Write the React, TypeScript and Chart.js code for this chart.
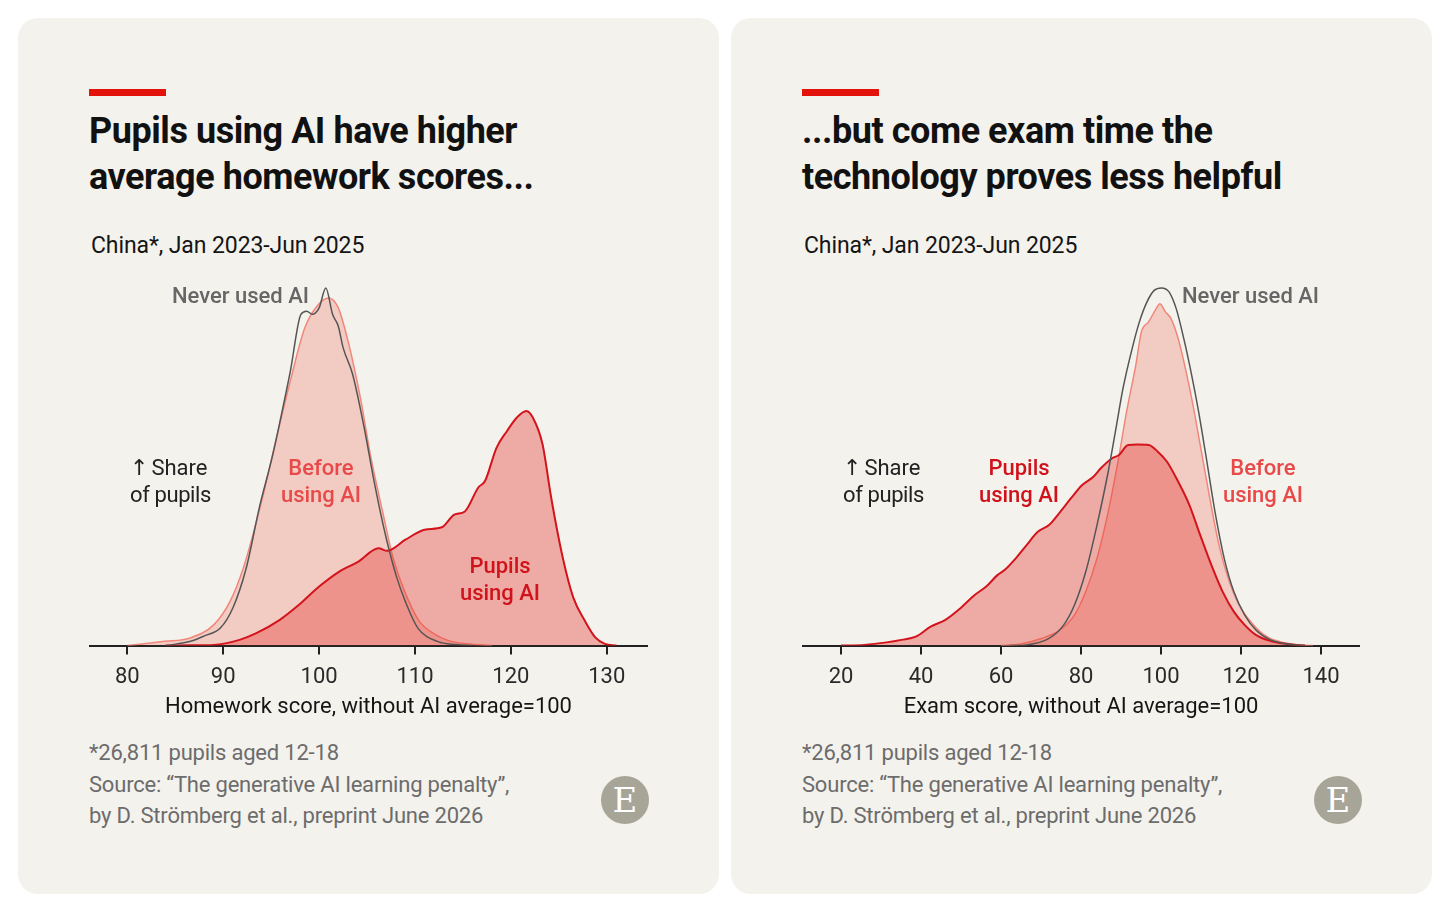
import React, { useEffect, useRef } from "react";
import { Chart, registerables } from "chart.js";

Chart.register(...registerables);

// ---------- Data (score, share of pupils; Never-used-AI peak = 100) ----------
const HW_TICKS = [80, 90, 100, 110, 120, 130];
const EXAM_TICKS = [20, 40, 60, 80, 100, 120, 140];

const hwNever: [number, number][] = [
  [84, 0], [86.6, 1.2], [88.1, 2.8], [89.7, 4.9], [91.0, 10.5], [92.4, 21.7], [93.8, 39],
  [95.1, 52.6], [96.0, 63.7], [97.0, 76.7], [98.1, 92.6], [98.7, 93.5], [99.3, 92.6],
  [100.0, 94.4], [100.7, 100], [101.4, 92.6], [102.0, 89.3], [102.5, 83.3], [103.5, 75.8],
  [104.7, 60.9], [105.8, 45], [107.0, 30], [108.1, 19], [109.0, 12.3], [110.3, 4.9],
  [112.4, 1.1], [114.3, 0.3], [116, 0],
];
const hwBefore: [number, number][] = [
  [80, 0], [83.9, 1.2], [86.5, 2.1], [89.0, 5.8], [90.7, 12.3], [92.1, 21.7], [93.1, 31],
  [94.0, 40.3], [95.4, 56.3], [97.0, 74], [98.5, 88.8], [99.9, 95.3], [101.0, 97.2],
  [102.0, 94.4], [103.1, 84.2], [104.3, 69.3], [105.4, 52.6], [106.6, 37.7], [107.7, 24.7],
  [108.9, 15.3], [110.4, 7], [112, 3.3], [113.5, 1.4], [115.4, 0.5], [118, 0],
];
const hwPupilsAI: [number, number][] = [
  [84, 0], [86.6, 0.1], [89.0, 0.2], [91.7, 1.6], [93.4, 3.4], [95.9, 7.2], [97.9, 11.4],
  [100.0, 16.5], [102.1, 20.7], [104.1, 23.5], [106.2, 27.2], [107.1, 26.5], [109.0, 29.6],
  [111.0, 32.4], [112.8, 33.1], [114.1, 36.6], [115.2, 37.5], [116.6, 44.2], [117.3, 46],
  [118.5, 55.3], [119.6, 60], [120.6, 63.7], [121.6, 65.6], [122.3, 63.7], [123.3, 56.3],
  [124.2, 41.4], [125.4, 24.7], [126.5, 13.5], [127.7, 7], [128.8, 2.3], [129.8, 0.5],
  [131, 0],
];

const examNever: [number, number][] = [
  [62, 0], [66.4, 0.2], [72, 2], [75.7, 5.8], [78.4, 11.4], [81.2, 20.7], [84, 33.7],
  [86.8, 48.6], [88.6, 59.8], [90.5, 71.9], [92.8, 83.1], [94.6, 90.5], [96.5, 96.1],
  [98.3, 99.3], [100.1, 100], [102, 98.9], [103.8, 94.2], [105.7, 85.8], [107.5, 76.5],
  [109.4, 65.4], [111.2, 53.3], [113.5, 37.4], [115.8, 24.4], [118.2, 15.1], [120.9, 8.6],
  [123.7, 4.4], [127.4, 1.6], [132, 0.4], [136, 0],
];
const examBefore: [number, number][] = [
  [60, 0], [64.6, 0.4], [70.1, 2], [74.8, 4.4], [78.4, 8.6], [81.2, 15.1], [84, 24.4],
  [86.8, 37.4], [89.1, 50.5], [91.4, 65.4], [93.7, 78.4], [95.1, 87.7], [96.9, 90.5],
  [98.8, 94.2], [99.7, 95.6], [101.1, 93.3], [102.5, 91.4], [104.3, 85.8], [106.1, 77.5],
  [108, 67.2], [109.8, 56.1], [112.2, 41.2], [114.5, 28.1], [116.8, 18.8], [119.5, 11.4],
  [122.8, 6.2], [126.5, 2.5], [131.1, 0.7], [134.8, 0.2], [138, 0],
];
const examPupilsAI: [number, number][] = [
  [20, 0], [25.8, 0.2], [31.4, 0.9], [35.1, 1.6], [38.7, 2.5], [42.4, 5.3], [46.1, 7.2],
  [49.8, 10.4], [53.5, 14.2], [56.3, 16.5], [59.1, 19.7], [60.9, 21.1], [63.7, 24.4],
  [66.4, 28.1], [69.2, 31.8], [72, 33.7], [74.8, 37.4], [77.5, 41.2], [80.3, 44.9],
  [83.1, 47.2], [84.9, 49.5], [87.7, 52.3], [89.5, 53.3], [91.8, 56.1], [94.1, 56.2],
  [96.9, 56.1], [99.2, 54.2], [101.5, 51.4], [104.3, 45.8], [107.1, 39.3], [109.8, 30.9],
  [112.6, 22.5], [115.4, 15.1], [118.2, 9.5], [120.9, 5.8], [123.7, 3], [127.4, 1.3],
  [132, 0.4], [136, 0],
];

// ---------- Styles ----------
const FONT = "Roboto, 'Liberation Sans', sans-serif";
const CARD_BG = "#f4f2ed";
const RED_LINE = "#d3141c";
const BEFORE_LINE = "#f0877a";
const GRAY_LINE = "#555555";

type Pt = [number, number];

function DensityChart(props: {
  never: Pt[];
  before: Pt[];
  pupils: Pt[];
  ticks: number[];
  min: number;
  max: number;
  axisTitle: string;
  left: number;
  top: number;
  width: number;
  height: number;
}) {
  const ref = useRef<HTMLCanvasElement | null>(null);
  useEffect(() => {
    if (!ref.current) return;
    const toXY = (a: Pt[]) => a.map(([x, y]) => ({ x, y }));
    const chart = new Chart(ref.current, {
      type: "line",
      data: {
        datasets: [
          {
            label: "Pupils using AI",
            data: toXY(props.pupils),
            borderColor: RED_LINE,
            borderWidth: 2,
            backgroundColor: "rgba(230, 60, 52, 0.39)",
            fill: "origin",
            pointRadius: 0,
            tension: 0.4,
            cubicInterpolationMode: "monotone",
            order: 2,
          },
          {
            label: "Before using AI",
            data: toXY(props.before),
            borderColor: BEFORE_LINE,
            borderWidth: 1.5,
            backgroundColor: "rgba(238, 120, 105, 0.32)",
            fill: "origin",
            pointRadius: 0,
            tension: 0.4,
            cubicInterpolationMode: "monotone",
            order: 3,
          },
          {
            label: "Never used AI",
            data: toXY(props.never),
            borderColor: GRAY_LINE,
            borderWidth: 1.5,
            backgroundColor: "transparent",
            fill: false,
            pointRadius: 0,
            tension: 0.4,
            cubicInterpolationMode: "monotone",
            order: 1,
          },
        ],
      },
      options: {
        animation: false,
        responsive: false,
        maintainAspectRatio: false,
        layout: { padding: 0 },
        plugins: { legend: { display: false }, tooltip: { enabled: false }, title: { display: false } },
        scales: {
          x: {
            type: "linear",
            min: props.min,
            max: props.max,
            afterBuildTicks: (axis: any) => {
              axis.ticks = props.ticks.map((v) => ({ value: v }));
            },
            grid: {
              drawOnChartArea: false,
              drawTicks: true,
              tickLength: 9,
              color: "#222",
              lineWidth: 2,
            },
            border: { display: true, color: "#222", width: 2 },
            ticks: {
              autoSkip: false,
              maxRotation: 0,
              padding: 12,
              color: "#2a2a2a",
              font: { family: FONT, size: 22, lineHeight: 1.0 },
            },
            title: {
              display: true,
              text: props.axisTitle,
              color: "#151515",
              font: { family: FONT, size: 22, lineHeight: 1.2 },
              padding: { top: -6, bottom: 0 },
            },
          },
          y: { display: false, min: 0, max: 105 },
        },
      },
    });
    return () => chart.destroy();
  }, []);
  return (
    <canvas
      ref={ref}
      width={props.width}
      height={props.height}
      style={{ position: "absolute", left: props.left, top: props.top, width: props.width, height: props.height }}
    />
  );
}

function Txt(props: {
  x: number;
  y: number;
  children: React.ReactNode;
  size?: number;
  color?: string;
  weight?: number;
  align?: "left" | "center" | "right";
  lh?: number;
  ls?: number;
}) {
  const lh = props.lh ?? 27;
  const align = props.align ?? "left";
  const w = 600;
  const left = align === "left" ? props.x : align === "center" ? props.x - w / 2 : props.x - w;
  return (
    <div
      style={{
        position: "absolute",
        left,
        top: props.y - lh / 2,
        width: w,
        textAlign: align,
        fontFamily: FONT,
        fontSize: props.size ?? 22,
        lineHeight: `${lh}px`,
        color: props.color ?? "#151515",
        fontWeight: props.weight ?? 400,
        letterSpacing: props.ls ?? 0,
        whiteSpace: "pre",
      }}
    >
      {props.children}
    </div>
  );
}

function Logo(props: { cx: number; cy: number }) {
  return (
    <div
      style={{
        position: "absolute",
        left: props.cx - 24,
        top: props.cy - 24,
        width: 48,
        height: 48,
        borderRadius: "50%",
        background: "#a7a597",
        color: "#fff",
        fontFamily: "'DejaVu Serif', 'Liberation Serif', serif",
        fontSize: 34,
        lineHeight: "48px",
        textAlign: "center",
      }}
    >
      E
    </div>
  );
}

function Card(props: { x: number }) {
  return (
    <div
      style={{
        position: "absolute",
        left: props.x,
        top: 18,
        width: 701,
        height: 876,
        borderRadius: 20,
        background: CARD_BG,
      }}
    />
  );
}

const Arrow = () => (
  <span style={{ fontFamily: "'DejaVu Sans', sans-serif", fontSize: 22, marginRight: 3 }}>↑</span>
);

export default function App() {
  const dx = 713; // offset of right panel
  const titleProps = { size: 36, weight: 700, lh: 46, ls: -0.45, color: "#111" };
  const footColor = "#6c6c6c";
  return (
    <div style={{ position: "absolute", left: 0, top: 0, width: 1451, height: 916, background: "#ffffff", overflow: "hidden" }}>
      <Card x={18} />
      <Card x={731} />

      {/* Left panel */}
      <div style={{ position: "absolute", left: 89, top: 89, width: 77, height: 7, background: "#e3120b" }} />
      <Txt x={89} y={131} {...titleProps}>Pupils using AI have higher</Txt>
      <Txt x={89} y={177} {...titleProps}>average homework scores...</Txt>
      <Txt x={91} y={245} size={23} ls={-0.1}>China*, Jan 2023-Jun 2025</Txt>
      <DensityChart
        never={hwNever}
        before={hwBefore}
        pupils={hwPupilsAI}
        ticks={HW_TICKS}
        min={76}
        max={134.3}
        axisTitle="Homework score, without AI average=100"
        left={89}
        top={270}
        width={559}
        height={451}
      />
      <Txt x={309} y={295} align="right" color="#666" weight={500}>Never used AI</Txt>
      <Txt x={130} y={467} color="#222"><Arrow />Share</Txt>
      <Txt x={130} y={494} color="#222" ls={-0.4}>of pupils</Txt>
      <Txt x={321} y={467} align="center" color="#e84a4a" weight={500}>Before</Txt>
      <Txt x={321} y={494} align="center" color="#e84a4a" weight={500}>using AI</Txt>
      <Txt x={500} y={565} align="center" color="#d0131b" weight={500}>Pupils</Txt>
      <Txt x={500} y={592} align="center" color="#d0131b" weight={500}>using AI</Txt>
      <Txt x={89} y={752} color={footColor} ls={-0.2}>*26,811 pupils aged 12-18</Txt>
      <Txt x={89} y={784} color={footColor} ls={-0.2}>Source: “The generative AI learning penalty”,</Txt>
      <Txt x={89} y={815} color={footColor} ls={-0.2}>by D. Strömberg et al., preprint June 2026</Txt>
      <Logo cx={625} cy={800} />

      {/* Right panel */}
      <div style={{ position: "absolute", left: 89 + dx, top: 89, width: 77, height: 7, background: "#e3120b" }} />
      <Txt x={802} y={131} {...titleProps}>...but come exam time the</Txt>
      <Txt x={802} y={177} {...titleProps}>technology proves less helpful</Txt>
      <Txt x={804} y={245} size={23} ls={-0.1}>China*, Jan 2023-Jun 2025</Txt>
      <DensityChart
        never={examNever}
        before={examBefore}
        pupils={examPupilsAI}
        ticks={EXAM_TICKS}
        min={10.25}
        max={149.75}
        axisTitle="Exam score, without AI average=100"
        left={802}
        top={270}
        width={558}
        height={451}
      />
      <Txt x={1182} y={295} color="#666" weight={500}>Never used AI</Txt>
      <Txt x={843} y={467} color="#222"><Arrow />Share</Txt>
      <Txt x={843} y={494} color="#222" ls={-0.4}>of pupils</Txt>
      <Txt x={1019} y={467} align="center" color="#d0131b" weight={500}>Pupils</Txt>
      <Txt x={1019} y={494} align="center" color="#d0131b" weight={500}>using AI</Txt>
      <Txt x={1263} y={467} align="center" color="#e84a4a" weight={500}>Before</Txt>
      <Txt x={1263} y={494} align="center" color="#e84a4a" weight={500}>using AI</Txt>
      <Txt x={802} y={752} color={footColor} ls={-0.2}>*26,811 pupils aged 12-18</Txt>
      <Txt x={802} y={784} color={footColor} ls={-0.2}>Source: “The generative AI learning penalty”,</Txt>
      <Txt x={802} y={815} color={footColor} ls={-0.2}>by D. Strömberg et al., preprint June 2026</Txt>
      <Logo cx={1338} cy={800} />
    </div>
  );
}
